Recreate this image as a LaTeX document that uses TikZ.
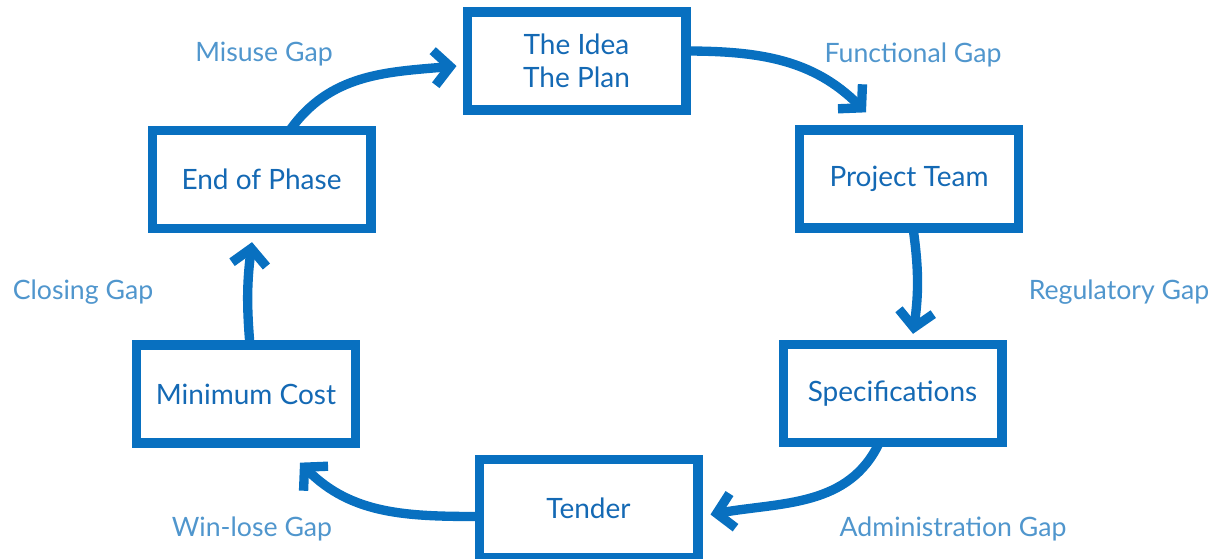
\documentclass[tikz,border=0pt]{standalone}
\usepackage{fontspec}
\setmainfont{Lato}
\usetikzlibrary{arrows.meta,calc}
\definecolor{boxblue}{RGB}{8,112,192}
\definecolor{txtblue}{RGB}{20,105,180}
\definecolor{lblblue}{RGB}{80,150,205}
\begin{document}
\begin{tikzpicture}[x=0.75pt,y=0.75pt,
  box/.style={draw=boxblue, line width=7pt, minimum width=164pt, minimum height=73.5pt, inner sep=0pt, text=txtblue, font=\fontsize{21}{25}\selectfont, align=center},
  gap/.style={text=lblblue, font=\fontsize{20}{22}\selectfont, anchor=base, inner sep=0pt},
  flow/.style={draw=boxblue, line width=7pt, -{Straight Barb[length=12pt,width=26pt]}}]
\useasboundingbox (0,0) rectangle (1225,-558);
\node[box] (idea) at (576.5,-61) {The Idea\\The Plan};
\node[box] (team) at (909,-179) {Project Team};
\node[box] (spec) at (892.5,-393.5) {Specifications};
\node[box] (tender) at (588.5,-508.5) {Tender};
\node[box] (cost) at (246,-394) {Minimum Cost};
\node[box] (eop) at (261.5,-179.5) {End of Phase};

\draw[flow] ($(eop.north)+(28,-5)$) to[out=55,in=185] ($(idea.west)+(-6,-5)$);
\draw[flow] ($(idea.east)+(-5,10)$) to[out=0,in=135] ($(team.north)+(-43,13)$);
\draw[flow] ($(team.south)+(4,5)$) to[bend left=8] ($(spec.north)+(20.5,6)$);
\draw[flow] ($(spec.south)+(-13,5)$) to[out=-115,in=10] ($(tender.east)+(8,-6)$);
\draw[flow] ($(tender.west)+(5,-8)$) to[out=180,in=-45] ($(cost.south)+(54,-15)$);
\draw[flow] ($(cost.north)+(4,-5)$) to[bend left=6] ($(eop.south)+(-9.5,-9)$);

\node[gap] (l1) at (264,-61) {Misuse Gap};
\node[gap] (l2) at (913,-62) {Functional Gap};
\node[gap] (l3) at (1119,-299) {Regulatory Gap};
\node[gap] (l4) at (83,-299) {Closing Gap};
\node[gap] (l5) at (252,-536) {Win-lose Gap};
\node[gap] (l6) at (953,-536) {Administration Gap};
\end{tikzpicture}
\end{document}
